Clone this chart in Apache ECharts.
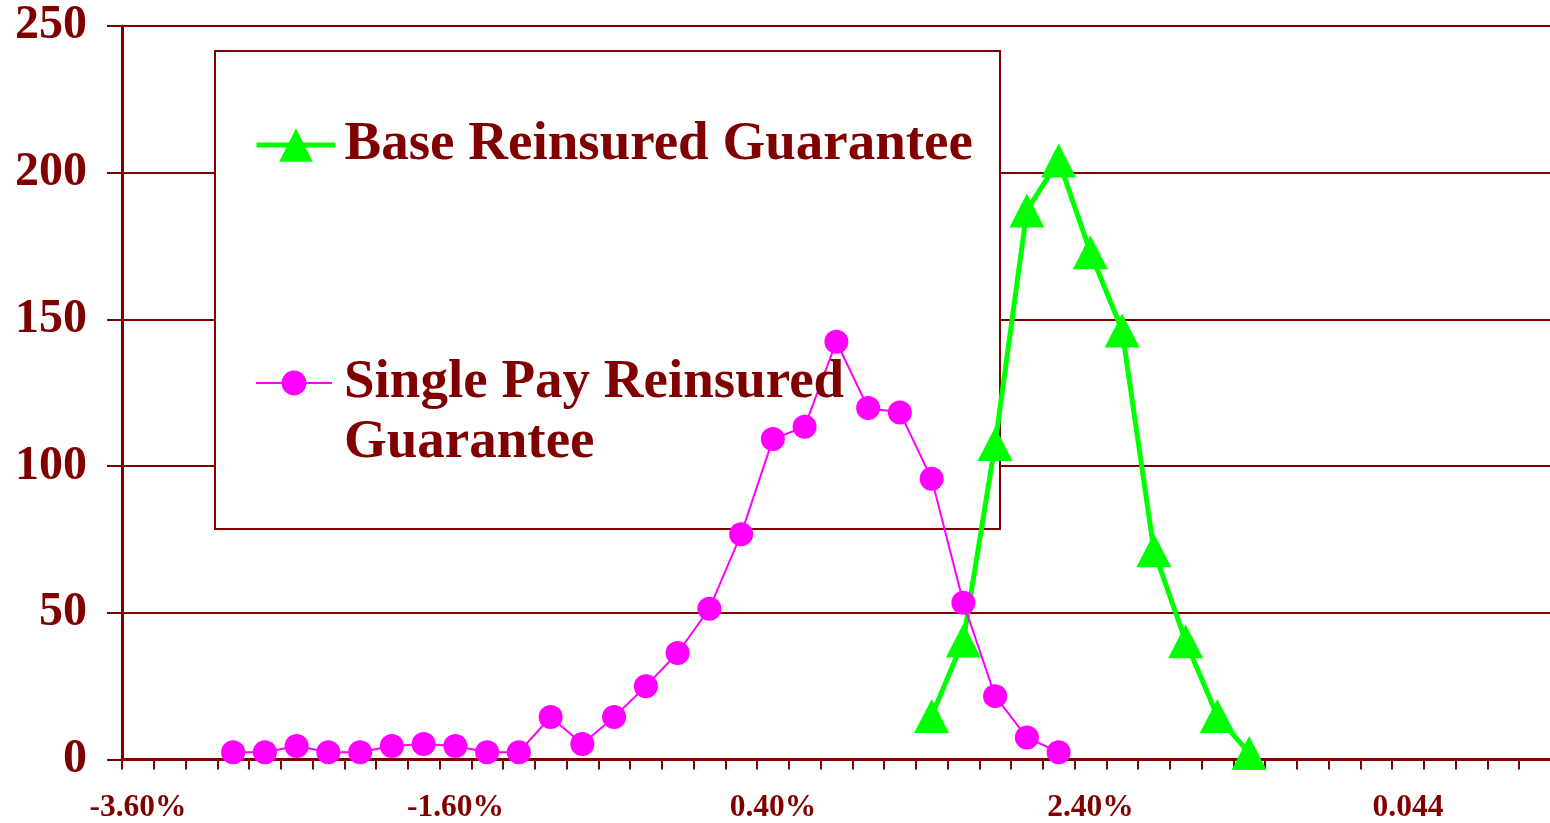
<!DOCTYPE html>
<html>
<head>
<meta charset="utf-8">
<title>Reinsured Guarantee Return Distribution</title>
<script src="https://cdn.jsdelivr.net/npm/echarts@6/dist/echarts.min.js"></script>
<style>
  html, body { margin: 0; padding: 0; background: #ffffff; }
  #chart { width: 1550px; height: 823px; }
</style>
</head>
<body>
<div id="chart"></div>
<script>
// Return buckets (in percent) and the number of scenarios falling in each
const singlePayReturns = [-2.9, -2.7, -2.5, -2.3, -2.1, -1.9, -1.7, -1.5, -1.3, -1.1,
                          -0.9, -0.7, -0.5, -0.3, -0.1, 0.1, 0.3, 0.5, 0.7, 0.9,
                          1.1, 1.3, 1.5, 1.7, 1.9, 2.1, 2.3];
const singlePayCounts  = [2.5, 2.5, 4.6, 2.5, 2.5, 4.6, 5.3, 4.6, 2.5, 2.5,
                          14.5, 5.3, 14.5, 25, 36.3, 51.4, 76.8, 109.2, 113.4, 142.4,
                          119.8, 118.3, 95.7, 53.4, 21.6, 7.5, 2.5];

const baseReturns = [1.5, 1.7, 1.9, 2.1, 2.3, 2.5, 2.7, 2.9, 3.1, 3.3, 3.5];
const baseCounts  = [14.8, 40.6, 107.5, 187.1, 204.2, 172.9, 146.2, 71.3, 40.3, 14.8, 2.2];

// Labelled positions on the return axis and the text printed under them
const xTickValues = [-3.6, -1.6, 0.4, 2.4, 4.4];
const xTickLabels = ['-3.60%', '-1.60%', '0.40%', '2.40%', '0.044'];

const seriesNames = ['Base Reinsured Guarantee', 'Single Pay Reinsured Guarantee'];

const DARK_RED = '#800000';
const SERIF = "'Liberation Serif', 'Times New Roman', Times, serif";

function pairs(xs, ys) {
  return xs.map((x, i) => [x, ys[i]]);
}

const chart = echarts.init(document.getElementById('chart'), null, { renderer: 'canvas' });

chart.setOption({
  animation: false,
  backgroundColor: '#ffffff',
  grid: {
    left: 122, top: 26, width: 1428.75, height: 733.5,
    containLabel: false, outerBoundsMode: 'none'
  },
  xAxis: {
    type: 'value',
    min: -3.6,
    max: 5.4,
    interval: 0.2,
    axisLine: { show: true, onZero: false, lineStyle: { color: DARK_RED, width: 3 } },
    axisTick: { show: true, inside: false, length: 10, lineStyle: { color: DARK_RED, width: 2 } },
    splitLine: { show: false },
    axisLabel: {
      show: true,
      margin: 32,
      padding: [0, 0, 0, 32],
      color: DARK_RED,
      fontFamily: SERIF,
      fontWeight: 'bold',
      fontSize: 31.5,
      formatter: function (v) {
        const i = xTickValues.findIndex(t => Math.abs(t - v) < 1e-6);
        return i >= 0 ? xTickLabels[i] : '';
      }
    }
  },
  yAxis: {
    type: 'value',
    min: 0,
    max: 250,
    interval: 50,
    axisLine: { show: true, onZero: false, lineStyle: { color: DARK_RED, width: 3 } },
    axisTick: { show: true, inside: false, length: 15, lineStyle: { color: DARK_RED, width: 2 } },
    splitLine: { show: true, lineStyle: { color: DARK_RED, width: 2 } },
    axisLabel: {
      margin: 35,
      color: DARK_RED,
      fontFamily: SERIF,
      fontWeight: 'bold',
      fontSize: 48
    }
  },
  graphic: {
    elements: [{
      // legend frame drawn over the grid lines, under the data
      type: 'rect',
      z: 1,
      shape: { x: 215, y: 51, width: 785, height: 478 },
      style: { fill: '#ffffff', stroke: DARK_RED, lineWidth: 2 }
    }]
  },
  legend: [
    {
      data: [seriesNames[0]],
      left: 254,
      top: 115,
      padding: 0,
      itemWidth: 79,
      itemHeight: 42,
      lineStyle: { width: 5 },
      textStyle: {
        color: DARK_RED, fontFamily: SERIF, fontWeight: 'bold', fontSize: 55,
        lineHeight: 60, padding: [0, 0, 0, 4]
      }
    },
    {
      data: [seriesNames[1]],
      left: 255,
      top: 293,
      padding: 0,
      itemWidth: 76,
      itemHeight: 31,
      lineStyle: { width: 2 },
      formatter: function () { return '\nSingle Pay Reinsured\nGuarantee'; },
      textStyle: {
        color: DARK_RED, fontFamily: SERIF, fontWeight: 'bold', fontSize: 55,
        lineHeight: 60, padding: [0, 0, 0, 7]
      }
    }
  ],
  series: [
    {
      name: seriesNames[0],
      type: 'line',
      data: pairs(baseReturns, baseCounts),
      color: '#00ff00',
      lineStyle: { color: '#00ff00', width: 5 },
      itemStyle: { color: '#00ff00' },
      symbol: 'triangle',
      symbolSize: [35, 34],
      showAllSymbol: true,
      z: 2
    },
    {
      name: seriesNames[1],
      type: 'line',
      data: pairs(singlePayReturns, singlePayCounts),
      color: '#ff00ff',
      lineStyle: { color: '#ff00ff', width: 2 },
      itemStyle: { color: '#ff00ff' },
      symbol: 'circle',
      symbolSize: 24,
      showAllSymbol: true,
      z: 3
    }
  ]
});
</script>
</body>
</html>
